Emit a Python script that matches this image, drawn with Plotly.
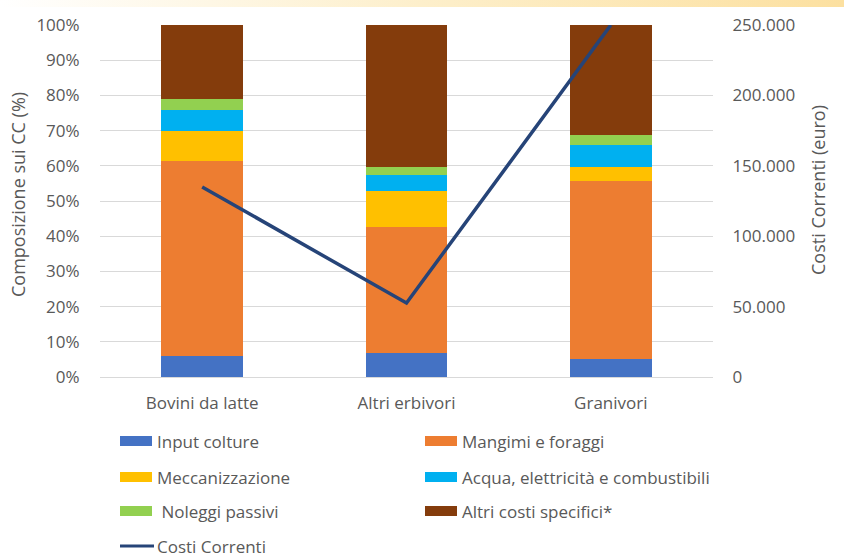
import base64
import plotly.graph_objects as go

# Categories and cost composition (% of current costs)
categories = ["Bovini da latte", "Altri erbivori", "Granivori"]
series_names = [
    "Input colture",
    "Mangimi e foraggi",
    "Meccanizzazione",
    "Acqua, elettricità e combustibili",
    " Noleggi passivi",
    "Altri costi specifici*",
]
input_colture = [5.9, 6.9, 5.0]
mangimi_foraggi = [55.5, 35.8, 50.6]
meccanizzazione = [8.6, 10.2, 4.1]
acqua_elettricita = [5.9, 4.6, 6.2]
noleggi_passivi = [3.1, 2.2, 2.8]
altri_costi = [21.0, 40.3, 31.3]
series_values = [input_colture, mangimi_foraggi, meccanizzazione,
                 acqua_elettricita, noleggi_passivi, altri_costi]
series_colors = ["#4472C4", "#ED7D31", "#FFC000", "#00B0F0", "#92D050", "#843C0C"]

# Current costs (euro)
line_name = "Costi Correnti"
costi_correnti = [135000, 52500, 250000]
line_color = "#264478"

left_ticks = list(range(0, 101, 10))
left_tick_text = [f"{v}%" for v in left_ticks]
right_ticks = [0, 50000, 100000, 150000, 200000, 250000]

FONT = "Open Sans"
TXT = "#595959"
FS = 17

W, H = 844, 560
ML, MR, MT, MB = 100, 131, 25, 183
PW, PH = W - ML - MR, H - MT - MB


def px_x(px):
    return (px - ML) / PW


def px_y(py):
    return (H - MB - py) / PH


fig = go.Figure()
for name, vals, col in zip(series_names, series_values, series_colors):
    fig.add_trace(go.Bar(x=categories, y=vals, name=name, marker_color=col,
                         marker_line_width=0, showlegend=False))

fig.add_trace(go.Scatter(x=categories, y=costi_correnti, name=line_name, yaxis="y2",
                         mode="lines", line=dict(color=line_color, width=3.5),
                         showlegend=False))

# Header band with a soft horizontal gradient
svg = (
    '<svg xmlns="http://www.w3.org/2000/svg" width="844" height="8">'
    '<defs><linearGradient id="g" x1="0" x2="1" y1="0" y2="0">'
    '<stop offset="0" stop-color="#FFFFFF"/>'
    '<stop offset="0.5" stop-color="#FDEFCB"/>'
    '<stop offset="1" stop-color="#FCE0A0"/>'
    '</linearGradient></defs>'
    '<rect width="844" height="8" fill="url(#g)"/></svg>'
)
band_src = "data:image/svg+xml;base64," + base64.b64encode(svg.encode()).decode()

annotations = [
    dict(text="Composizione sui CC (%)", textangle=-90, x=px_x(18), y=px_y(195),
         xref="paper", yref="paper", showarrow=False, xanchor="center", yanchor="middle",
         font=dict(family=FONT, size=18, color=TXT)),
    dict(text="Costi Correnti (euro)", textangle=-90, x=px_x(818), y=px_y(190),
         xref="paper", yref="paper", showarrow=False, xanchor="center", yanchor="middle",
         font=dict(family=FONT, size=18, color=TXT)),
]
shapes = []

# Two-column legend below the plot
rows_y = [441, 477, 511, 546]
col_sym_x = [120, 425]
sym_w = 32
for i, (name, col) in enumerate(zip(series_names, series_colors)):
    r, c = divmod(i, 2)
    x0 = col_sym_x[c]
    yc = rows_y[r]
    shapes.append(dict(type="rect", xref="paper", yref="paper",
                       x0=px_x(x0), x1=px_x(x0 + sym_w), y0=px_y(yc + 5), y1=px_y(yc - 5),
                       fillcolor=col, line_width=0))
    annotations.append(dict(text=name.replace(" ", "\u00a0"), x=px_x(x0 + sym_w + 3), y=px_y(yc),
                            xref="paper", yref="paper", showarrow=False,
                            xanchor="left", yanchor="middle",
                            font=dict(family=FONT, size=FS, color=TXT)))
yc = rows_y[3]
shapes.append(dict(type="line", xref="paper", yref="paper",
                   x0=px_x(120), x1=px_x(120 + sym_w + 2), y0=px_y(yc), y1=px_y(yc),
                   line=dict(color=line_color, width=3)))
annotations.append(dict(text=line_name, x=px_x(120 + sym_w + 3), y=px_y(yc),
                        xref="paper", yref="paper", showarrow=False,
                        xanchor="left", yanchor="middle",
                        font=dict(family=FONT, size=FS, color=TXT)))

fig.update_layout(
    width=W, height=H,
    margin=dict(l=ML, r=MR, t=MT, b=MB),
    paper_bgcolor="white", plot_bgcolor="white",
    barmode="stack", bargap=0.6,
    separators=",.",
    font=dict(family=FONT, size=FS, color=TXT),
    showlegend=False,
    xaxis=dict(showgrid=False, showline=True, linecolor="#D9D9D9", linewidth=1,
               ticks="outside", ticklen=11, tickcolor="rgba(0,0,0,0)",
               tickfont=dict(family=FONT, size=FS, color=TXT), fixedrange=True),
    yaxis=dict(range=[0, 100], tickvals=left_ticks, ticktext=left_tick_text,
               showgrid=True, gridcolor="#D9D9D9", gridwidth=1, zeroline=False,
               ticks="outside", ticklen=16, tickcolor="rgba(0,0,0,0)",
               tickfont=dict(family=FONT, size=FS, color=TXT), showline=False),
    yaxis2=dict(range=[0, 250000], tickvals=right_ticks, tickformat=",d",
                overlaying="y", side="right", showgrid=False, zeroline=False,
                ticks="outside", ticklen=15, tickcolor="rgba(0,0,0,0)",
                tickfont=dict(family=FONT, size=FS, color=TXT), showline=False),
    annotations=annotations,
    shapes=shapes,
    images=[dict(source=band_src, xref="paper", yref="paper",
                 x=px_x(0), y=px_y(0), sizex=W / PW, sizey=7 / PH,
                 xanchor="left", yanchor="top", sizing="stretch", layer="below")],
)

fig.write_html("out.html")
